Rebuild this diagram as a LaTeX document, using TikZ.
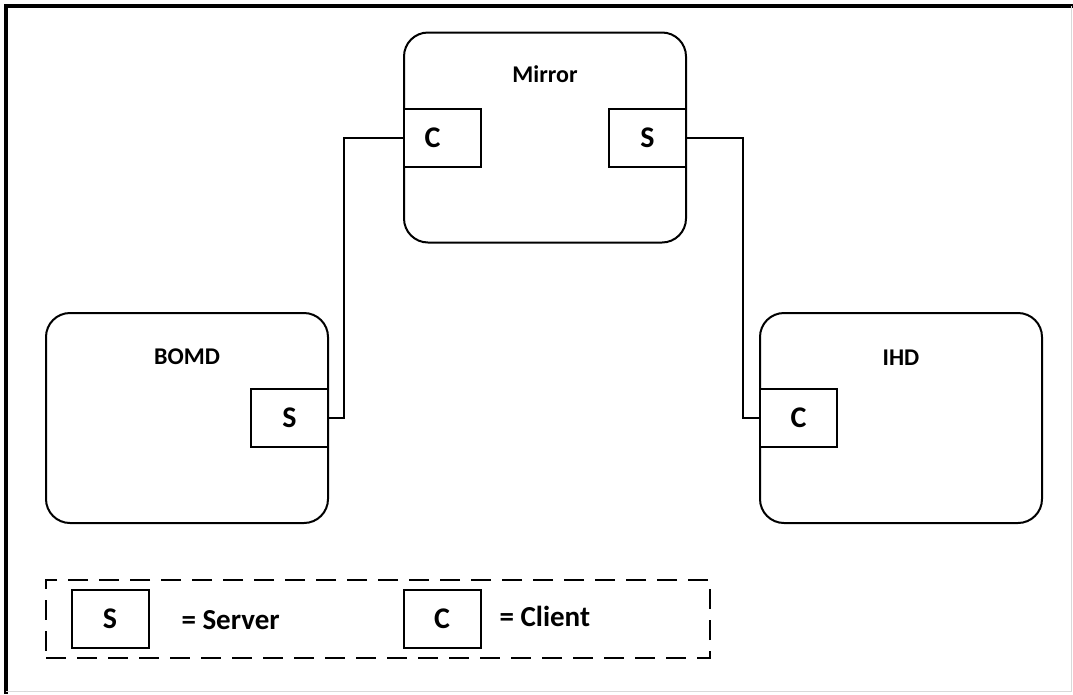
\documentclass[tikz,border=0pt]{standalone}
\usepackage{fontspec}
\setmainfont{Carlito}
\usetikzlibrary{positioning}

\begin{document}
\begin{tikzpicture}[x=1pt, y=-1pt,
    module/.style={draw, line width=2pt, rounded corners=24pt,
      minimum width=282pt, minimum height=210pt, inner sep=0pt},
    port/.style={draw, line width=2pt, fill=white, minimum width=77pt,
      minimum height=58pt, inner sep=0pt, font=\bfseries\fontsize{30}{34}\selectfont},
    modname/.style={font=\bfseries\fontsize{24}{28}\selectfont},
    keytext/.style={anchor=west, font=\bfseries\fontsize{29}{34}\selectfont},
    wire/.style={line width=2pt}]
  \useasboundingbox (0,0) rectangle (1073,694);
  % cadre
  \draw[line width=3.5pt] (6,694) -- (6,6) -- (1073,6);
  \draw[black!15, line width=1pt] (1071,6) -- (1071,691) -- (6,691);
  % modules
  \node[module] (mirror) at (545,137.5) {};
  \node[module] (bomd) at (187,418) {};
  \node[module] (ihd) at (901,418) {};
  \node[modname] (mirrorlbl) at ([yshift=-43pt]mirror.north) {Mirror};
  \node[modname] (bomdlbl) at ([yshift=-45pt]bomd.north) {BOMD};
  \node[modname] (ihdlbl) at ([yshift=-46pt]ihd.north) {IHD};
  % ports
  \node[port, anchor=west] (mirrorC) at (mirror.west) {\hspace*{-20pt}C};
  \node[port, anchor=east] (mirrorS) at (mirror.east) {S};
  \node[port, anchor=east] (bomdS) at (bomd.east) {S};
  \node[port, anchor=west] (ihdC) at (ihd.west) {C};
  % liaisons
  \draw[wire] (mirrorC.west) -- ++(-59,0) |- (bomdS.east);
  \draw[wire] (mirrorS.east) -- ++(56,0) |- (ihdC.west);
  % legende
  \node[draw, line width=2pt, dash pattern=on 20pt off 11pt,
        minimum width=664pt, minimum height=78pt] (legend) at (378,619) {};
  \node[port] (keyS) at (110,619) {S};
  \node[keytext] (keySlbl) at (178,620) {= Server};
  \node[port] (keyC) at (442,619) {C};
  \node[keytext] (keyClbl) at (496,616) {= Client};
\end{tikzpicture}
\end{document}
